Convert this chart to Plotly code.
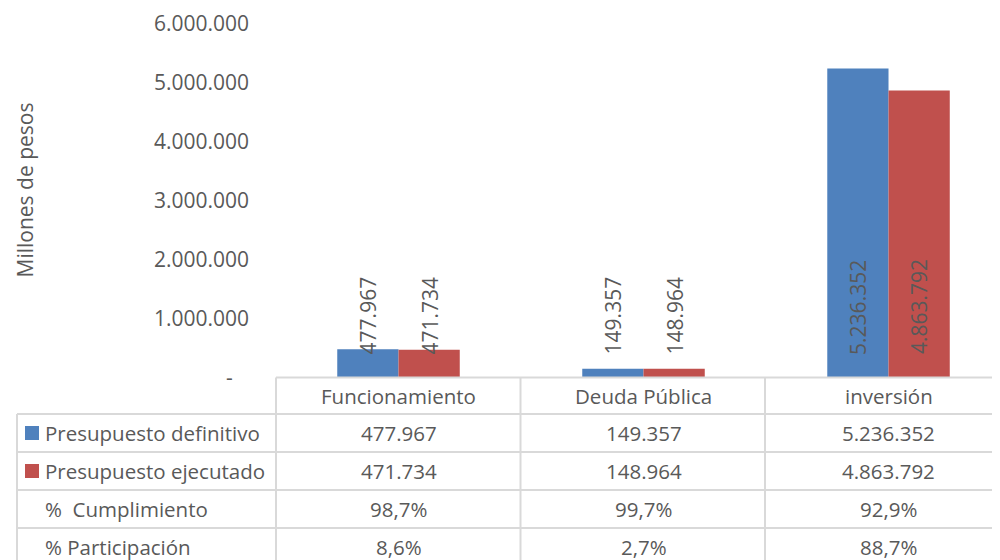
import plotly.graph_objects as go

# ---- data ----
categories = ["Funcionamiento", "Deuda Pública", "inversión"]
definitivo = [477967, 149357, 5236352]
ejecutado = [471734, 148964, 4863792]
cumplimiento = ["98,7%", "99,7%", "92,9%"]
participacion = ["8,6%", "2,7%", "88,7%"]
series_names = ["Presupuesto definitivo", "Presupuesto ejecutado"]
row_labels = ["%  Cumplimiento", "% Participación"]
ytick_vals = [0, 1000000, 2000000, 3000000, 4000000, 5000000, 6000000]
ytick_text = ["-\u00a0\u00a0\u00a0", "1.000.000", "2.000.000", "3.000.000",
              "4.000.000", "5.000.000", "6.000.000"]
y_title = "Millones de pesos"

BLUE = "#4F81BD"
RED = "#C0504D"
TXT = "#595959"
LINE = "#D9D9D9"
FONT = "Open Sans"
OFF = 8  # page body margin
W, H = 1000 - OFF, 560 - OFF


def fmt(v):
    return f"{v:,}".replace(",", ".")


def px(x):
    return (x - OFF) / W


def py(y):
    return 1 - (y - OFF) / H


fig = go.Figure()
fig.add_trace(go.Bar(x=categories, y=definitivo, name=series_names[0],
                     marker=dict(color=BLUE, line=dict(width=0))))
fig.add_trace(go.Bar(x=categories, y=ejecutado, name=series_names[1],
                     marker=dict(color=RED, line=dict(width=0))))

ann = []
# rotated data labels at bar base
for i, c in enumerate(categories):
    for vals, shift in ((definitivo, -30.6), (ejecutado, 30.6)):
        ann.append(dict(x=c, y=0, xref="x", yref="y", text=fmt(vals[i]),
                        textangle=-90, showarrow=False, xshift=shift,
                        yanchor="bottom", xanchor="center", yshift=21,
                        font=dict(family=FONT, size=21, color=TXT)))

# table
row_y = [395.5, 433, 471, 509, 547]
for i, c in enumerate(categories):
    cells = [c, fmt(definitivo[i]), fmt(ejecutado[i]), cumplimiento[i], participacion[i]]
    for r, t in enumerate(cells):
        ann.append(dict(x=c, y=py(row_y[r]), xref="x", yref="paper", text=t,
                        showarrow=False, xanchor="center", yanchor="middle",
                        font=dict(family=FONT, size=20.5, color=TXT)))
labels = series_names + row_labels
for r, t in enumerate(labels):
    ann.append(dict(x=px(43), y=py(row_y[r + 1]), xref="paper", yref="paper", text=t,
                    showarrow=False, xanchor="left", yanchor="middle",
                    font=dict(family=FONT, size=20.5, color=TXT)))

# axis title
ann.append(dict(x=px(24), y=py(190.5), xref="paper", yref="paper", text=y_title,
                textangle=-90, showarrow=False, xanchor="center", yanchor="middle",
                font=dict(family=FONT, size=21, color=TXT)))

shapes = []


def hline(y, x0, x1):
    shapes.append(dict(type="line", xref="paper", yref="paper", x0=px(x0), x1=px(x1),
                       y0=py(y), y1=py(y), line=dict(color=LINE, width=2)))


def vline(x, y0, y1):
    shapes.append(dict(type="line", xref="paper", yref="paper", x0=px(x), x1=px(x),
                       y0=py(y0), y1=py(y1), line=dict(color=LINE, width=2)))


hline(377.5, 276, 1000)
for yy in (414, 452, 490, 528):
    hline(yy, 17, 1000)
vline(17, 414, 570)
vline(276, 377.5, 570)
vline(520.5, 377.5, 570)
vline(765, 377.5, 570)

# legend keys
for col, yy in ((BLUE, 433), (RED, 471)):
    shapes.append(dict(type="rect", xref="paper", yref="paper", x0=px(25), x1=px(39),
                       y0=py(yy - 7), y1=py(yy + 7), fillcolor=col, line=dict(width=0)))

fig.update_layout(
    template="none",
    width=W, height=H,
    autosize=False,
    margin=dict(l=0, r=0, t=0, b=0, pad=0, autoexpand=False),
    plot_bgcolor="white", paper_bgcolor="white",
    barmode="group", bargap=0.5, bargroupgap=0,
    showlegend=False,
    font=dict(family=FONT, color=TXT),
    xaxis=dict(domain=[px(276), 1.0], range=[-0.5, 2.455], showticklabels=False,
               showgrid=False, zeroline=False, showline=False, automargin=False,
               ticks="", fixedrange=True),
    yaxis=dict(domain=[py(377.5), py(23.5)], range=[0, 6000000], tickvals=ytick_vals,
               ticktext=ytick_text, showgrid=False, zeroline=False, showline=False,
               ticks="", ticklabelstandoff=26, automargin=False,
               tickfont=dict(family=FONT, size=21, color=TXT), fixedrange=True),
    annotations=ann,
    shapes=shapes,
)

fig.write_html("out.html")
